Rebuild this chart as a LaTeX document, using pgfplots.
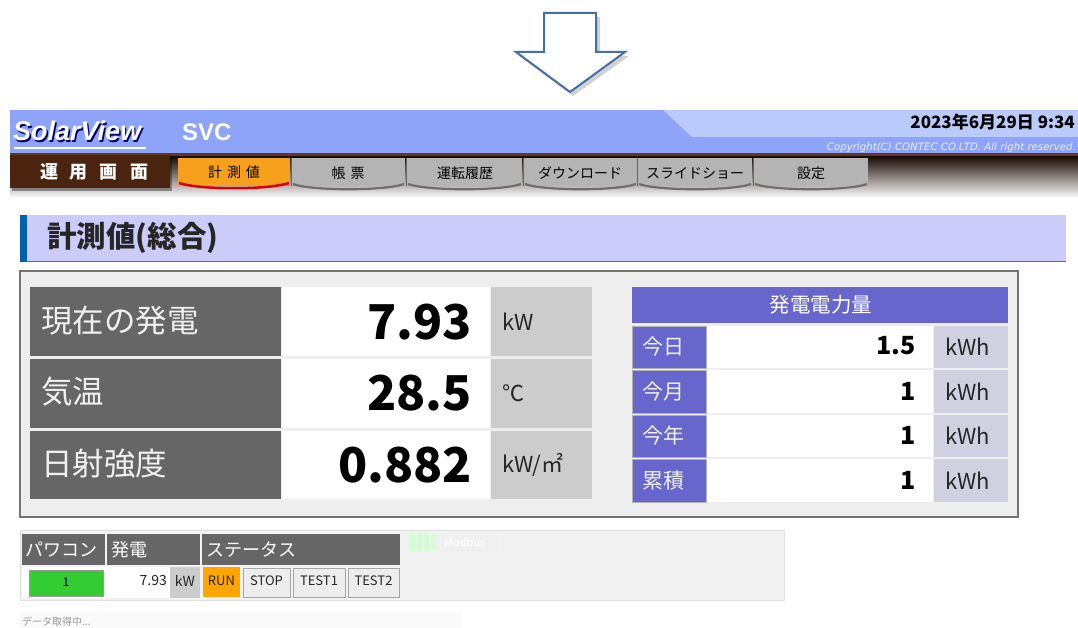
\documentclass[border=0pt]{standalone}
\usepackage{pgfplots}
\pgfplotsset{compat=1.18}
\usepackage{pgfplotstable}
\usepackage{fontspec}
\setmainfont{Noto Sans CJK JP}
\newfontfamily\jp{Noto Sans CJK JP}
\newfontfamily\lib{Liberation Sans}
\newfontfamily\dvs{DejaVu Sans}
\definecolor{hdr}{RGB}{142,164,248}
\definecolor{hdrlight}{RGB}{186,202,250}
\definecolor{brownd}{RGB}{75,36,16}
\definecolor{brownl}{RGB}{100,56,30}
\definecolor{tabor}{RGB}{247,160,30}
\definecolor{tabgr}{RGB}{180,180,180}
\definecolor{tabsh}{RGB}{110,110,110}
\definecolor{lav}{RGB}{204,204,250}
\definecolor{secblue}{RGB}{0,96,176}
\definecolor{lineblue}{RGB}{40,120,210}
\definecolor{panel}{RGB}{238,238,238}
\definecolor{dgray}{RGB}{102,102,102}
\definecolor{lgray}{RGB}{204,204,204}
\definecolor{purp}{RGB}{102,102,204}
\definecolor{lpurp}{RGB}{208,208,224}
\definecolor{arrowblue}{RGB}{70,112,165}
\definecolor{runor}{RGB}{255,165,0}
\definecolor{okgreen}{RGB}{51,204,51}
\pgfplotstableread{
x y label
472 322 7.93
472 393 28.5
472 465 0.882
}\bigvalues
\pgfplotstableread{
x y label
916 346 1.5
916 391 1
916 435 1
916 480 1
}\energyvalues
\tikzset{
  tabg/.style={fill=tabgr},
  lbl/.style={anchor=west, inner sep=0pt, text=white!94!black, font=\jp\fontsize{31.5}{31.5}\selectfont},
  unit/.style={anchor=west, inner sep=0pt, text=black!85, font=\jp\fontsize{22}{22}\selectfont},
  runit/.style={anchor=west, inner sep=0pt, text=black!85, font=\jp\fontsize{22}{22}\selectfont},
  rlbl/.style={anchor=west, inner sep=0pt, text=white!94!black, font=\jp\fontsize{21}{21}\selectfont},
  tabt/.style={inner sep=0pt, font=\jp\fontsize{14}{14}\selectfont},
  btn/.style={fill=black!7, draw=black!35, line width=0.6pt},
  btnt/.style={inner sep=0pt, text=black!85, font=\jp\fontsize{13}{13}\selectfont},
}
\begin{document}
\begin{tikzpicture}
\begin{axis}[hide axis, scale only axis, width=1078pt, height=628pt,
  xmin=0, xmax=1078, ymin=0, ymax=628, y dir=reverse, clip=false]
% background
\fill[white] (0,0) rectangle (1078,628);
% arrow
\fill[black, opacity=0.18] (547,17) -- (600,17) -- (600,56) -- (629,56) -- (573,96) -- (519,56) -- (547,56) -- cycle;
\filldraw[fill=white, draw=arrowblue, line width=2pt, line join=miter] (544,13) -- (596,13) -- (596,52) -- (625,52) -- (570,92) -- (516,52) -- (544,52) -- cycle;
% header
\fill[hdr] (10,110) rectangle (1078,155);
\fill[hdrlight] (663,110) -- (1078,110) -- (1078,137) -- (692,137) -- cycle;
\node[anchor=west, inner sep=0pt, text=black!60!blue, font=\lib\bfseries\itshape\fontsize{27}{27}\selectfont] at (14.4,132.4) {SolarView};
\node[anchor=west, inner sep=0pt, text=white, font=\lib\bfseries\itshape\fontsize{27}{27}\selectfont] at (13,131) {SolarView};
\draw[white, line width=1.6pt] (14,148) -- (146,148);
\node[anchor=west, inner sep=0pt, text=white, font=\lib\bfseries\fontsize{24}{24}\selectfont] at (182,132) {SVC};
\node[anchor=east, inner sep=0pt, text=black, font=\jp\bfseries\fontsize{17}{17}\selectfont] at (1075,122) {2023年6月29日 9:34};
\node[anchor=east, inner sep=0pt, text=white!92!blue, font=\dvs\itshape\fontsize{10.2}{10.2}\selectfont] at (1076,148) {Copyright(C) CONTEC CO.LTD. All right reserved.};
% brown line and gradient band
\fill[brownl] (10,153) rectangle (1078,157);
\shade[top color={rgb,255:red,28;green,14;blue,8}, bottom color=white] (10,157) rectangle (1078,198);
% operation box
\fill[black, opacity=0.35] (12,158) rectangle (172,191);
\fill[brownd] (10,155) rectangle (170,188);
\node[text=white, inner sep=0pt, font=\jp\bfseries\fontsize{18}{18}\selectfont] at (94,172) {運\hspace{12pt}用\hspace{12pt}画\hspace{12pt}面};
% tabs
\fill[tabor] (178,158) rectangle (290,186);
\draw[red!85!black, line width=2.5pt] (179,183) .. controls (200,190) and (268,190) .. (289,183);
\node[tabt] at (234,172) {計\hspace{5pt}測\hspace{5pt}値};
\fill[tabg] (292,158) rectangle (405,186);
\draw[tabsh, line width=2.2pt] (293,184) .. controls (312,191) and (385,191) .. (404,184);
\fill[tabg] (407,158) rectangle (522,186);
\draw[tabsh, line width=2.2pt] (408,184) .. controls (427,191) and (502,191) .. (521,184);
\fill[tabg] (524,158) rectangle (637,186);
\draw[tabsh, line width=2.2pt] (525,184) .. controls (544,191) and (617,191) .. (636,184);
\fill[tabg] (638,158) rectangle (752,186);
\draw[tabsh, line width=2.2pt] (639,184) .. controls (658,191) and (732,191) .. (751,184);
\fill[tabg] (754,158) rectangle (868,186);
\draw[tabsh, line width=2.2pt] (755,184) .. controls (774,191) and (848,191) .. (867,184);
\draw[black!60, line width=0.8pt] (291,158) -- (291,186);
\draw[black!60, line width=0.8pt] (406,158) -- (406,186);
\draw[black!60, line width=0.8pt] (523,158) -- (523,186);
\draw[black!60, line width=0.8pt] (637.5,158) -- (637.5,186);
\draw[black!60, line width=0.8pt] (753,158) -- (753,186);
\node[tabt] at (348,173) {帳\hspace{5pt}票};
\node[tabt] at (465,173) {運転履歴};
\node[tabt] at (580,173) {ダウンロード};
\node[tabt] at (695,173) {スライドショー};
\node[tabt] at (811,173) {設定};
% section title
\fill[secblue] (20,215) rectangle (27,262);
\fill[lav] (27,215) rectangle (1066,262);
\draw[lineblue, line width=1pt] (27,261.5) -- (1066,261.5);
\node[anchor=west, inner sep=0pt, text=black!85, font=\jp\bfseries\fontsize{29.5}{29.5}\selectfont] at (47,238) {計測値(総合)};
% main panel
\filldraw[fill=panel, draw=black!55, line width=1.8pt] (20,271) rectangle (1018,517);
% left table
\fill[dgray] (30,287) rectangle (281,356);
\fill[white] (282,287) rectangle (490,356);
\fill[lgray] (491,287) rectangle (592,356);
\fill[dgray] (30,359) rectangle (281,428);
\fill[white] (282,359) rectangle (490,428);
\fill[lgray] (491,359) rectangle (592,428);
\fill[dgray] (30,431) rectangle (281,499);
\fill[white] (282,431) rectangle (490,499);
\fill[lgray] (491,431) rectangle (592,499);
\node[lbl] at (41,321) {現在の発電};
\node[lbl] at (41,392) {気温};
\node[lbl] at (41,464) {日射強度};
\node[unit] at (502,322) {kW};
\node[unit] at (502,393) {℃};
\node[unit] at (502,465) {kW/㎡};
\addplot[draw=none, mark=none, nodes near coords, point meta=explicit symbolic,
  every node near coord/.append style={anchor=east, inner sep=0pt, text=black, font=\jp\bfseries\fontsize{48}{48}\selectfont}]
  table[x=x, y=y, meta=label] {\bigvalues};
% right table
\fill[purp] (632,287) rectangle (1008,323);
\node[inner sep=0pt, text=white, font=\jp\fontsize{20.5}{20.5}\selectfont] at (821,305) {発電電力量};
\filldraw[fill=purp, draw=black!30, line width=0.6pt] (632,326) rectangle (706,368);
\fill[white] (707,326) rectangle (933,368);
\fill[lpurp] (934,326) rectangle (1008,368);
\filldraw[fill=purp, draw=black!30, line width=0.6pt] (632,370) rectangle (706,413);
\fill[white] (707,370) rectangle (933,413);
\fill[lpurp] (934,370) rectangle (1008,413);
\filldraw[fill=purp, draw=black!30, line width=0.6pt] (632,415) rectangle (706,457);
\fill[white] (707,415) rectangle (933,457);
\fill[lpurp] (934,415) rectangle (1008,457);
\filldraw[fill=purp, draw=black!30, line width=0.6pt] (632,459) rectangle (706,502);
\fill[white] (707,459) rectangle (933,502);
\fill[lpurp] (934,459) rectangle (1008,502);
\node[rlbl] at (642,347) {今日};
\node[rlbl] at (642,391.5) {今月};
\node[rlbl] at (642,436) {今年};
\node[rlbl] at (642,480.5) {累積};
\node[runit] at (945,347) {kWh};
\node[runit] at (945,391.5) {kWh};
\node[runit] at (945,436) {kWh};
\node[runit] at (945,480.5) {kWh};
\addplot[draw=none, mark=none, nodes near coords, point meta=explicit symbolic,
  every node near coord/.append style={anchor=east, inner sep=0pt, text=black, font=\jp\bfseries\fontsize{25}{25}\selectfont}]
  table[x=x, y=y, meta=label] {\energyvalues};
% bottom status
\filldraw[fill=black!5, draw=black!12, line width=0.6pt] (20,530) rectangle (784,600);
\fill[dgray] (22,534) rectangle (105,565);
\fill[dgray] (107,534) rectangle (200,565);
\fill[dgray] (202,534) rectangle (400,565);
\node[anchor=west, inner sep=0pt, text=white, font=\jp\fontsize{18}{18}\selectfont] at (25,550) {パワコン};
\node[anchor=west, inner sep=0pt, text=white, font=\jp\fontsize{18}{18}\selectfont] at (111,550) {発電};
\node[anchor=west, inner sep=0pt, text=white, font=\jp\fontsize{18}{18}\selectfont] at (206,550) {ステータス};
\fill[white] (22,567) rectangle (200,598);
\filldraw[fill=okgreen, draw=black!40, line width=0.6pt] (29,570) rectangle (103,596);
\node[inner sep=0pt, text=black!70!blue, font=\jp\fontsize{12}{12}\selectfont] at (66,582) {1};
\node[anchor=east, inner sep=0pt, text=black!85, font=\jp\fontsize{14}{14}\selectfont] at (167,581) {7.93};
\fill[lgray] (170,567) rectangle (200,598);
\node[inner sep=0pt, text=black!85, font=\jp\fontsize{14}{14}\selectfont] at (185,581) {kW};
\fill[runor] (203,567) rectangle (240,597);
\node[btnt] at (221.5,581) {RUN};
\filldraw[btn] (243,568) rectangle (290,597);
\node[btnt] at (266.5,581) {STOP};
\filldraw[btn] (293,568) rectangle (345,597);
\node[btnt] at (319,581) {TEST1};
\filldraw[btn] (348,568) rectangle (399,597);
\node[btnt] at (373.5,581) {TEST2};
% modbus
\fill[black!6] (408,532) rectangle (498,552);
\fill[green!18] (410,533) rectangle (415,551);
\fill[green!18] (417,533) rectangle (422,551);
\fill[green!18] (424,533) rectangle (429,551);
\fill[green!18] (431,533) rectangle (436,551);
\node[anchor=west, inner sep=0pt, text=white, font=\jp\fontsize{11}{11}\selectfont] at (444,542) {Modbus};
% status text
\fill[black!2] (20,612) rectangle (462,628);
\node[anchor=west, inner sep=0pt, text=black!40, font=\jp\fontsize{10}{10}\selectfont] at (22,622) {データ取得中...};
\end{axis}
\end{tikzpicture}
\end{document}
